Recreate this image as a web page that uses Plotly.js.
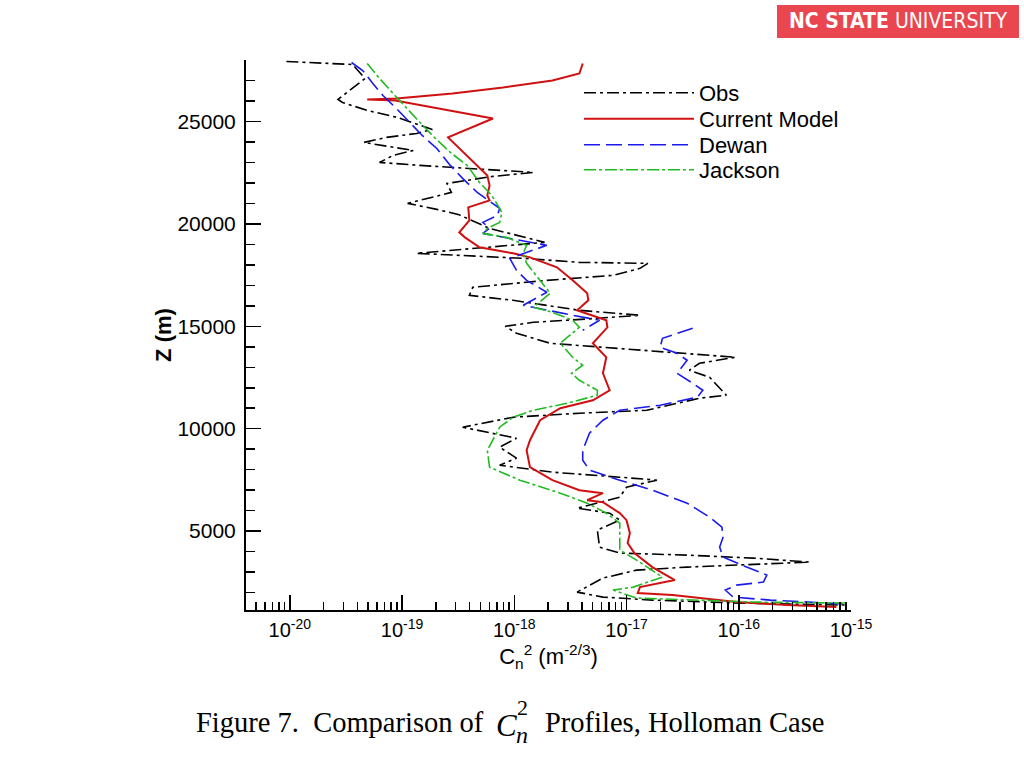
<!DOCTYPE html>
<html>
<head>
<meta charset="utf-8">
<script src="https://cdn.plot.ly/plotly-3.0.1.min.js"></script>
<style>
html,body{margin:0;padding:0;background:#ffffff;}
#chart{width:1024px;height:768px;}
</style>
</head>
<body>
<div id="chart"></div>
<script>
// Height Z (m) and log10 of Cn^2 (m^-2/3)
const obsZ = [27927,27780,27098,26073,25927,25537,25195,24610,24415,24220,23976,23585,23341,23000,22854,22707,22512,22317,21976,21537,21000,20707,20463,19780,19098,18561,18317,18122,18073,17829,17488,17244,16902,16512,16268,15781,15537,15390,15195,15000,14658,14171,13927,13683,13488,13195,12854,12512,11634,11488,10902,10756,10561,10073,9829,9537,9098,8561,8220,7878,7634,7488,7146,6659,6122,5878,5537,5049,4220,3927,3829,3683,3488,3390,3244,3098,2707,2024,1780,1634,1488,1390];
const obsLogCn2 = [-20.03,-19.44,-19.33,-19.57,-19.53,-19.31,-19.04,-18.73,-18.87,-19.14,-19.34,-18.90,-19.08,-19.20,-18.84,-18.40,-17.83,-18.19,-18.60,-18.56,-18.95,-18.69,-18.50,-18.22,-17.73,-18.87,-17.92,-17.42,-16.81,-16.88,-17.12,-17.71,-18.37,-18.40,-18.01,-17.42,-16.88,-17.26,-17.83,-18.08,-17.98,-17.68,-17.12,-16.52,-16.03,-16.35,-16.44,-16.26,-16.11,-16.35,-16.82,-17.42,-18.01,-18.46,-18.24,-17.98,-18.13,-17.98,-18.13,-17.66,-17.06,-16.73,-17.00,-17.06,-17.44,-17.15,-17.06,-17.26,-17.24,-17.06,-16.46,-15.87,-15.37,-15.87,-16.46,-16.91,-17.21,-17.44,-17.21,-16.77,-15.99,-15.05];

const modelZ = [27829,27341,27000,26659,26366,26122,26073,26024,25146,24220,22366,21878,21390,21146,20805,20171,19585,19342,18854,18561,18366,17878,17244,16610,16268,15781,15293,14951,14171,13488,12707,11878,11390,11000,10415,9439,8951,8122,7488,7000,6854,6512,6415,5878,5537,4902,4415,3927,3244,2610,2268,1976,1878,1732,1537,1390,1293];
const modelLogCn2 = [-17.39,-17.42,-17.66,-18.10,-18.55,-19.05,-19.31,-19.06,-18.19,-18.59,-18.24,-18.22,-18.24,-18.22,-18.41,-18.40,-18.49,-18.44,-18.31,-18.01,-17.86,-17.62,-17.48,-17.35,-17.34,-17.44,-17.18,-17.17,-17.30,-17.18,-17.21,-17.15,-17.30,-17.59,-17.77,-17.86,-17.89,-17.86,-17.66,-17.42,-17.21,-17.35,-17.21,-17.06,-17.00,-16.97,-16.99,-16.93,-16.77,-16.57,-16.88,-16.90,-16.59,-16.32,-16.02,-15.57,-15.13];

// null marks the break visible in the Dewan profile near 15 km
const dewanZ = [27878,27488,26854,26268,25634,24951,24317,23683,22854,22220,21537,20756,20415,20073,19781,19537,18951,18317,17732,17244,16659,16024,15781,15537,15293,14805,null,14902,14415,13976,13683,13341,12707,12220,11878,11537,11146,10902,10415,9780,8951,8463,7976,7488,7000,6366,5683,5195,4707,4220,3732,3244,2854,2512,2366,2122,1780,1634,1537,1440];
const dewanLogCn2 = [-19.45,-19.35,-19.26,-19.17,-19.05,-18.93,-18.82,-18.69,-18.57,-18.46,-18.33,-18.13,-18.15,-18.28,-18.22,-18.28,-17.71,-18.04,-17.98,-17.89,-17.71,-17.92,-17.71,-17.48,-17.24,-17.39,null,-16.41,-16.68,-16.70,-16.55,-16.46,-16.55,-16.41,-16.32,-16.37,-16.70,-17.06,-17.21,-17.33,-17.39,-17.39,-17.33,-17.06,-16.77,-16.46,-16.26,-16.15,-16.14,-16.17,-16.14,-15.93,-15.75,-15.78,-16.02,-16.12,-16.05,-15.72,-15.43,-15.04];

const jacksonZ = [27829,27098,26366,25634,24951,24317,23488,22854,22024,21390,20561,20073,19781,19537,19342,18951,18561,18073,17244,16610,15927,15683,15293,14951,14171,13488,13098,12707,12366,11878,11634,11244,10902,10561,10073,8951,8122,7488,6854,6366,5878,5390,4707,4073,3585,2756,2268,2122,1732,1634,1537,1488];
const jacksonLogCn2 = [-19.31,-19.20,-19.08,-18.96,-18.84,-18.73,-18.57,-18.42,-18.31,-18.20,-18.11,-18.13,-18.24,-18.28,-18.07,-17.89,-17.92,-17.89,-17.77,-17.68,-17.83,-17.66,-17.48,-17.42,-17.59,-17.48,-17.39,-17.49,-17.42,-17.26,-17.26,-17.53,-17.83,-18.01,-18.13,-18.24,-18.22,-17.95,-17.59,-17.35,-17.18,-17.06,-17.06,-17.06,-16.91,-16.68,-16.94,-17.12,-16.91,-16.46,-15.87,-15.04];

const seriesNames = ['Obs','Current Model','Dewan','Jackson'];
const xTickExponents = [-20,-19,-18,-17,-16,-15];
const xTickLabels = ['10<sup>-20</sup>','10<sup>-19</sup>','10<sup>-18</sup>','10<sup>-17</sup>','10<sup>-16</sup>','10<sup>-15</sup>'];
const yTickValues = [5000,10000,15000,20000,25000];
const yTickLabels = ['5000','10000','15000','20000','25000'];

const toCn2 = arr => arr.map(v => (v === null ? null : Math.pow(10, v)));

const traces = [
  {name: seriesNames[0], x: toCn2(obsLogCn2), y: obsZ, mode:'lines', legend:'legend',
   line:{color:'#000000', width:1.6, dash:'12px,4px,3px,4px'}},
  {name: seriesNames[1], x: toCn2(modelLogCn2), y: modelZ, mode:'lines', legend:'legend2',
   line:{color:'#d01010', width:2}},
  {name: seriesNames[2], x: toCn2(dewanLogCn2), y: dewanZ, mode:'lines', legend:'legend3', connectgaps:false,
   line:{color:'#1a1aee', width:1.6, dash:'16px,6px'}},
  {name: seriesNames[3], x: toCn2(jacksonLogCn2), y: jacksonZ, mode:'lines', legend:'legend4',
   line:{color:'#22bb22', width:1.6, dash:'12px,3px,3px,3px'}}
];

const L = 246, R = 851, T = 60, B = 610;
const px = v => (v - L) / (R - L);
const py = v => (B - v) / (B - T);

const legendBase = {xanchor:'left', yanchor:'middle', bgcolor:'rgba(0,0,0,0)', borderwidth:0,
  font:{size:22, family:'Liberation Sans, Arial, sans-serif', color:'#000'}, itemwidth:110};
const legendRows = [93, 119, 145, 170];

const layout = {
  width:1024, height:768,
  margin:{l:L, r:1024-R, t:T, b:768-B},
  paper_bgcolor:'#ffffff', plot_bgcolor:'#ffffff',
  font:{family:'Liberation Sans, Arial, sans-serif', color:'#000000', size:16},
  showlegend:true,
  legend: Object.assign({x:px(579), y:py(legendRows[0])}, legendBase),
  legend2: Object.assign({x:px(579), y:py(legendRows[1])}, legendBase),
  legend3: Object.assign({x:px(579), y:py(legendRows[2])}, legendBase),
  legend4: Object.assign({x:px(579), y:py(legendRows[3])}, legendBase),
  xaxis:{
    type:'log', range:[-20.39, -15.0],
    tickvals: xTickExponents.map(e => Math.pow(10, e)),
    ticktext: xTickLabels,
    ticks:'inside', ticklen:15, tickwidth:1.5, tickcolor:'#000',
    minor:{dtick:'D1', ticks:'inside', ticklen:8, tickwidth:1.5, tickcolor:'#000'},
    showline:true, linecolor:'#000', linewidth:2, mirror:false,
    showgrid:false, zeroline:false,
    tickfont:{size:20}, ticklabelstandoff:1,
    title:{text:'C<sub>n</sub><sup>2</sup> (m<sup>-2/3</sup>)', font:{size:22}, standoff:0}
  },
  yaxis:{
    range:[1150, 28000],
    tickvals: yTickValues,
    ticktext: yTickLabels,
    ticks:'inside', ticklen:15, tickwidth:1.5, tickcolor:'#000',
    minor:{dtick:1000, tick0:0, ticks:'inside', ticklen:9, tickwidth:1.5, tickcolor:'#000'},
    showline:true, linecolor:'#000', linewidth:2, mirror:false,
    showgrid:false, zeroline:false,
    tickfont:{size:21}, ticklabelstandoff:4,
    title:{text:'<b>Z (m)</b>', font:{size:22}, standoff:0}
  },
  shapes:[
    {type:'rect', xref:'paper', yref:'paper', x0:px(777), x1:px(1019), y0:py(38), y1:py(5),
     fillcolor:'#e9464f', line:{width:0}, layer:'above'}
  ],
  annotations:[
    {xref:'paper', yref:'paper', x:px(898), y:py(21), xanchor:'center', yanchor:'middle', showarrow:false,
     text:'<b>NC STATE</b> UNIVERSITY',
     font:{family:'Liberation Sans Narrow, DejaVu Sans Condensed, Liberation Sans, sans-serif', size:21, color:'#ffffff'}},
    {xref:'paper', yref:'paper', x:px(486), y:py(722), xanchor:'right', yanchor:'middle', showarrow:false,
     text:'Figure 7.&nbsp; Comparison of', font:{family:'Liberation Serif, Times New Roman, serif', size:28.5}},
    {xref:'paper', yref:'paper', x:px(494), y:py(725), xanchor:'left', yanchor:'middle', showarrow:false,
     text:'<i>C</i>', font:{family:'Liberation Serif, Times New Roman, serif', size:31}},
    {xref:'paper', yref:'paper', x:px(515), y:py(707), xanchor:'left', yanchor:'middle', showarrow:false,
     text:'2', font:{family:'Liberation Serif, Times New Roman, serif', size:22}},
    {xref:'paper', yref:'paper', x:px(514), y:py(735), xanchor:'left', yanchor:'middle', showarrow:false,
     text:'<i>n</i>', font:{family:'Liberation Serif, Times New Roman, serif', size:24}},
    {xref:'paper', yref:'paper', x:px(543), y:py(722), xanchor:'left', yanchor:'middle', showarrow:false,
     text:'Profiles, Holloman Case', font:{family:'Liberation Serif, Times New Roman, serif', size:28.5}}
  ]
};

Plotly.newPlot('chart', traces, layout, {staticPlot:true, displayModeBar:false});
</script>
</body>
</html>
